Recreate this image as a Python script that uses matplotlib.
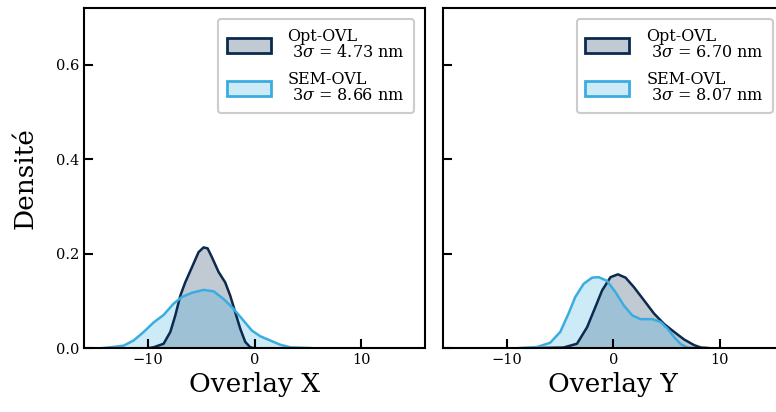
import matplotlib.pyplot as plt
from matplotlib.patches import Patch

plt.rcParams['font.family'] = 'serif'
plt.rcParams['font.serif'] = ['DejaVu Serif']
plt.rcParams['mathtext.fontset'] = 'dejavuserif'

dark = '#0b2a4f'
light = '#3aade0'

# curves (x in nm, density)
optx_x = [-9.9, -9.47, -8.53, -7.90, -7.43, -6.96, -6.5, -5.87, -5.25, -4.78, -4.40, -3.99, -3.37,
          -2.75, -2.28, -1.81, -1.34, -0.87, -0.40, -0.1]
optx_y = [0.0, 0.0015, 0.009, 0.034, 0.069, 0.111, 0.139, 0.171, 0.203, 0.213, 0.211, 0.192, 0.161,
          0.139, 0.111, 0.076, 0.041, 0.013, 0.0015, 0.0]
semx_x = [-14.2, -13.52, -12.28, -11.34, -10.40, -9.47, -8.53, -7.59, -6.81, -5.87, -4.78, -3.84, -2.91,
          -1.97, -1.03, -0.25, 0.53, 1.47, 2.41, 3.35, 5.2]
semx_y = [0.0, 0.0015, 0.005, 0.016, 0.034, 0.054, 0.070, 0.094, 0.108, 0.117, 0.123, 0.120, 0.104,
          0.083, 0.058, 0.037, 0.025, 0.016, 0.007, 0.0015, 0.0]

opty_x = [-6.9, -4.66, -3.40, -2.45, -1.67, -1.04, -0.25, 0.44, 1.16, 1.94, 2.89, 3.83, 4.77,
          5.72, 6.66, 7.60, 8.23, 8.9]
opty_y = [0.0, 0.001, 0.009, 0.044, 0.087, 0.122, 0.150, 0.156, 0.149, 0.129, 0.101, 0.073, 0.051,
          0.034, 0.018, 0.006, 0.001, 0.0]
semy_x = [-8.75, -7.17, -5.92, -4.97, -4.19, -3.56, -2.77, -1.98, -1.36, -0.57, 0.22, 1.0, 1.79,
          2.58, 3.68, 4.46, 5.09, 5.72, 6.35, 6.98, 7.6]
semy_y = [0.0, 0.002, 0.011, 0.034, 0.073, 0.108, 0.136, 0.149, 0.150, 0.142, 0.118, 0.090, 0.069,
          0.061, 0.061, 0.055, 0.041, 0.023, 0.008, 0.001, 0.0]

sigma_opt = ['4.73', '6.70']
sigma_sem = ['8.66', '8.07']
xlabels = ['Overlay X', 'Overlay Y']

fig = plt.figure(figsize=(7.76, 4.12), dpi=100)
ax1 = fig.add_axes([84 / 776, 64 / 412, 341 / 776, 340 / 412])
ax2 = fig.add_axes([442.7 / 776, 64 / 412, 341 / 776, 340 / 412], sharey=ax1)

panels = [(ax1, optx_x, optx_y, semx_x, semx_y),
          (ax2, opty_x, opty_y, semy_x, semy_y)]

for i, (ax, ox, oy, sx, sy) in enumerate(panels):
    ax.fill_between(ox, oy, color=dark, alpha=0.25, lw=0)
    ax.plot(ox, oy, color=dark, lw=1.8, solid_joinstyle='round')
    ax.fill_between(sx, sy, color=light, alpha=0.25, lw=0)
    ax.plot(sx, sy, color=light, lw=1.8, solid_joinstyle='round')

    ax.set_xlim(-16, 16)
    ax.set_ylim(0, 0.72)
    ax.set_xticks([-10, 0, 10])
    ax.set_yticks([0.0, 0.2, 0.4, 0.6])
    ax.tick_params(direction='in', length=6.5, width=1.5, labelsize=10.5)
    for s in ax.spines.values():
        s.set_linewidth(1.5)
    ax.set_xlabel(xlabels[i], fontsize=19)

    handles = [Patch(facecolor=(11 / 255, 42 / 255, 79 / 255, 0.25), edgecolor=dark, lw=2),
               Patch(facecolor=(58 / 255, 173 / 255, 224 / 255, 0.25), edgecolor=light, lw=2)]
    labels = ['Opt-OVL\n $3\\sigma$ = %s nm' % sigma_opt[i],
              'SEM-OVL\n $3\\sigma$ = %s nm' % sigma_sem[i]]
    leg = ax.legend(handles, labels, loc='upper right', fontsize=11.5, frameon=True,
                    handlelength=2.75, handleheight=1.05, handletextpad=1.05,
                    borderpad=0.55, labelspacing=0.6, borderaxespad=0.7,
                    edgecolor='#cccccc', fancybox=True, framealpha=1.0)
    leg.get_frame().set_linewidth(1.5)
    for t in leg.get_texts():
        t.set_linespacing(0.95)

ax1.set_ylabel('Densité', fontsize=19, labelpad=13)
plt.setp(ax2.get_yticklabels(), visible=False)

fig.savefig('out.png', dpi=100)
